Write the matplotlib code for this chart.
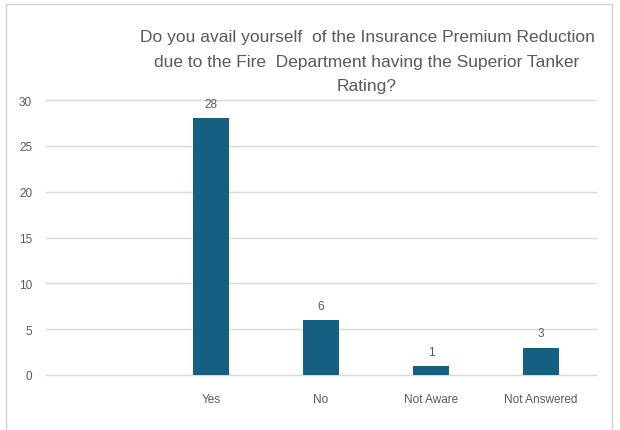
import matplotlib
matplotlib.use("Agg")
import matplotlib.pyplot as plt
from matplotlib.patches import Rectangle

categories = ["", "Yes", "No", "Not Aware", "Not Answered"]
values = [None, 28, 6, 1, 3]
yticks = [0, 5, 10, 15, 20, 25, 30]
title = ("Do you avail yourself  of the Insurance Premium Reduction\n"
         "due to the Fire  Department having the Superior Tanker\n"
         "Rating?")

plt.rcParams['font.family'] = ['Liberation Sans', 'DejaVu Sans']

gray = "#595959"
barc = "#156082"

fig = plt.figure(figsize=(6.2, 4.31), dpi=100)
fig.patches.append(Rectangle((6/620, -0.05), 606/620, 1.05 - 5/431, transform=fig.transFigure,
                             fill=False, edgecolor="#d0d0d0", linewidth=1.0))
ax = fig.add_axes([46/620, 1 - 376/431, 550/620, (376 - 101)/431])

xs = list(range(len(categories)))
hx = [x for x, v in zip(xs, values) if v is not None]
hv = [v for v in values if v is not None]
ax.bar(hx, hv, width=0.32, color=barc, zorder=3)
for x, v in zip(hx, hv):
    ax.text(x, v + 0.9, str(v), ha="center", va="bottom", fontsize=8.5, color=gray)

ax.set_xlim(-0.5, len(categories) - 0.5)
ax.set_ylim(0, 30)
ax.set_yticks(yticks)
ax.set_yticklabels([str(t) for t in yticks])
ax.set_xticks(xs)
ax.set_xticklabels(categories)
ax.tick_params(axis="both", length=0, labelsize=8.5, labelcolor=gray)
ax.tick_params(axis="y", pad=10)
ax.tick_params(axis="x", pad=13)
ax.grid(axis="y", color="#d9d9d9", linewidth=1, zorder=0)
for gl in ax.get_ygridlines():
    gl.set_clip_on(False)
for s in ax.spines.values():
    s.set_visible(False)
ax.set_facecolor("none")

fig.text(367/620, 1 - 30/431, title, ha="center", va="top", fontsize=12.5,
         color=gray, linespacing=1.8)

fig.savefig("out.png", dpi=100)
